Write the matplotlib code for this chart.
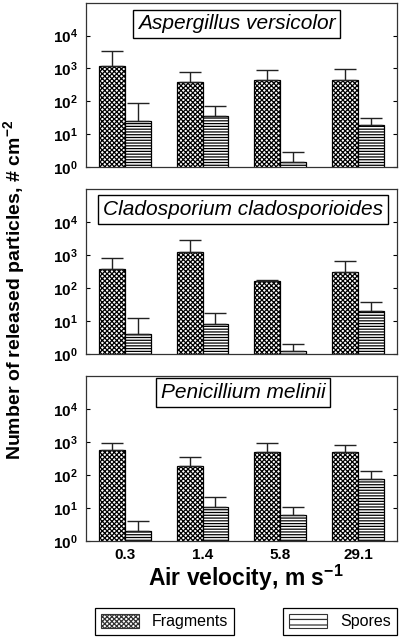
import numpy as np
import matplotlib
matplotlib.use('Agg')
import matplotlib.pyplot as plt
from matplotlib.patches import Patch

plt.rcParams['font.family'] = 'Liberation Sans'
plt.rcParams['mathtext.fontset'] = 'custom'
plt.rcParams['mathtext.rm'] = 'Liberation Sans'
plt.rcParams['mathtext.bf'] = 'Liberation Sans:bold'
plt.rcParams['mathtext.default'] = 'bf'
plt.rcParams['hatch.linewidth'] = 0.9

# data
velocities = ['0.3', '1.4', '5.8', '29.1']
species = ['Aspergillus versicolor', 'Cladosporium cladosporioides', 'Penicillium melinii']

frag_mean = [[1200, 400, 460, 460],
             [370, 1270, 160, 300],
             [570, 185, 500, 500]]
frag_upper = [[3500, 800, 870, 940],
              [790, 2900, 175, 640],
              [930, 350, 930, 800]]
spore_mean = [[25, 35, 1.4, 18.7],
              [4, 7.9, 1.2, 20],
              [2, 11, 6, 75]]
spore_upper = [[87, 70, 2.8, 32],
               [12, 18, 2, 38],
               [4, 21, 11, 130]]

fig = plt.figure(figsize=(4, 6.37), dpi=100)

# axes rectangles in figure fraction (left, bottom, width, height)
rects = [(0.215, 0.738, 0.777, 0.2575),
         (0.215, 0.4443, 0.777, 0.259),
         (0.215, 0.1507, 0.777, 0.259)]
title_pos = [(0.484, 0.872), (0.505, 0.876), (0.506, 0.90)]

x = np.arange(len(velocities))
w = 0.333

for i in range(3):
    ax = fig.add_axes(rects[i])
    fm = np.array(frag_mean[i])
    sm = np.array(spore_mean[i])
    ax.bar(x - w / 2, fm, w, facecolor='white', edgecolor='black',
           hatch='xxxxxxx', linewidth=0.9)
    ax.bar(x + w / 2, sm, w, facecolor='white', edgecolor='black',
           hatch='------', linewidth=0.9)
    # upper error bars only
    ax.errorbar(x - w / 2, fm, yerr=[np.zeros(4), np.array(frag_upper[i]) - fm],
                fmt='none', ecolor='#222222', elinewidth=1, capsize=8, capthick=1)
    ax.errorbar(x + w / 2, sm, yerr=[np.zeros(4), np.array(spore_upper[i]) - sm],
                fmt='none', ecolor='#222222', elinewidth=1, capsize=8, capthick=1)

    ax.set_yscale('log')
    ax.set_ylim(1, 1e5)
    ax.set_xlim(-0.5, 3.5)
    ax.set_yticks([1, 10, 100, 1000, 10000])
    ax.set_yticklabels([r'$10^{%d}$' % k for k in range(5)], fontsize=11)
    ax.minorticks_off()
    ax.tick_params(axis='y', which='both', direction='in', length=3, right=True,
                   left=True, pad=6, width=0.8)
    ax.set_xticks(x)
    if i == 2:
        ax.set_xticklabels(velocities, fontsize=11, fontweight='bold')
        ax.tick_params(axis='x', length=0, pad=5)
    else:
        ax.set_xticklabels([])
        ax.tick_params(axis='x', length=0)
    for s in ax.spines.values():
        s.set_color('#333333')
        s.set_linewidth(0.9)

    tx, ty = title_pos[i]
    ax.text(tx, ty, species[i], transform=ax.transAxes, ha='center', va='center',
            fontsize=15, fontstyle='italic',
            bbox=dict(boxstyle='square,pad=0.22', facecolor='white',
                      edgecolor='black', linewidth=1))

fig.text(0.035, 0.545, r'Number of released particles, # cm$^{-2}$',
         rotation=90, ha='center', va='center', fontsize=14, fontweight='bold')
fig.text(0.615, 1 - 578 / 637, r'Air velocity, m s$^{-1}$', ha='center',
         va='center', fontsize=16.5, fontweight='bold')

h_frag = Patch(facecolor='white', edgecolor='#333333', hatch='xxxxxxx', linewidth=0.8)
h_spore = Patch(facecolor='white', edgecolor='#333333', hatch='---', linewidth=0.8)
for handle, label, cx in [(h_frag, 'Fragments', 0.411), (h_spore, 'Spores', 0.85)]:
    leg = fig.legend([handle], [label], loc='center', bbox_to_anchor=(cx, 1 - 621.5 / 637),
                     fontsize=11.5, fancybox=False, edgecolor='black', framealpha=1,
                     handlelength=2.4, handleheight=1.0, borderpad=0.35,
                     handletextpad=0.8)
    leg.get_frame().set_linewidth(0.9)

fig.savefig('out.png', dpi=100)
